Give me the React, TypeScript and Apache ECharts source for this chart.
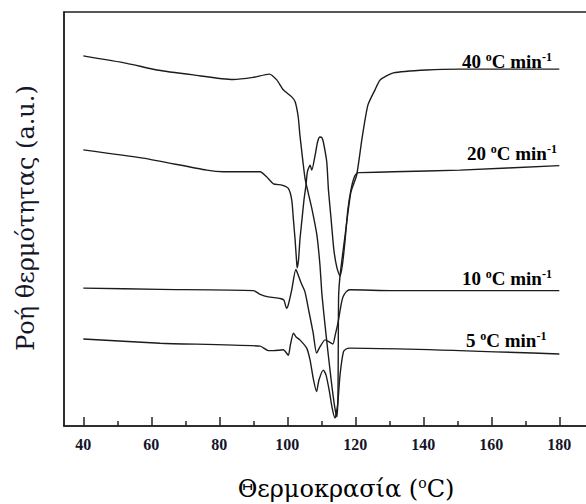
import React, { useEffect, useRef } from 'react';
import * as echarts from 'echarts';

const xTicks = [40, 60, 80, 100, 120, 140, 160, 180];
const xMinorTicks = [50, 70, 90, 110, 130, 150, 170];

// [temperature °C, heat flow a.u.]
const rate40: number[][] = [
  [40, 89.4], [52.8, 87.6], [61.6, 86.0], [72.4, 84.8], [84.0, 83.7], [89.9, 84.2],
  [94.7, 85.0], [96.9, 83.6], [98.8, 81.2], [101.3, 79.5], [102.3, 78.3], [103.2, 74.7],
  [103.7, 70.3], [104.2, 66.7], [104.6, 63.8], [105.2, 59.9], [106.1, 56.5], [107.3, 52.2],
  [108.7, 46.1], [109.6, 38.9], [110.2, 31.6], [111.4, 22.0], [112.9, 11.1], [114.0, 4.3],
  [114.6, 2.2], [114.9, 7.5], [115.0, 20.8], [115.1, 31.6], [115.5, 36.2], [117.0, 46.1],
  [118.7, 56.5], [120.4, 60.6], [122.0, 69.6], [123.7, 77.5], [125.8, 81.2], [127.3, 83.6],
  [131.2, 85.3], [141.0, 86.0], [150.8, 86.2], [180, 86.2],
];

const rate20: number[][] = [
  [40, 66.7], [57.6, 64.7], [76.3, 61.8], [81.2, 61.4], [92.0, 61.4], [93.9, 60.2],
  [95.9, 58.5], [98.4, 58.2], [100.3, 57.4], [101.3, 54.6], [101.8, 49.8], [102.3, 44.9],
  [102.7, 40.1], [102.9, 38.2], [103.3, 40.1], [103.7, 44.9], [104.3, 49.8], [104.9, 54.6],
  [105.5, 58.2], [105.9, 61.4], [106.7, 63.0], [107.2, 61.8], [108.2, 65.5], [108.9, 68.6],
  [109.6, 69.8], [110.2, 69.6], [110.6, 68.6], [111.6, 63.8], [112.1, 57.0], [112.9, 49.8],
  [113.7, 42.5], [114.6, 38.2], [115.5, 36.2], [116.2, 38.9], [117.0, 44.9], [117.8, 52.2],
  [118.7, 57.0], [119.6, 59.9], [120.5, 61.1], [121.4, 61.2], [131.2, 61.4], [150.8, 61.8],
  [180, 62.9],
];

const rate10: number[][] = [
  [40, 33.3], [62.6, 33.0], [90.0, 32.7], [92.0, 31.8], [94.4, 31.2], [97.9, 30.8],
  [99.0, 30.4], [99.8, 28.4], [100.2, 29.0], [101.3, 32.9], [102.5, 37.8], [103.2, 36.5],
  [104.1, 34.5], [105.2, 32.4], [106.4, 27.5], [107.6, 22.5], [108.6, 17.6], [109.6, 19.1],
  [111.1, 20.8], [112.3, 20.3], [113.4, 19.8], [114.1, 22.0], [114.9, 24.9], [115.8, 29.2],
  [116.4, 31.2], [117.3, 32.4], [118.4, 32.9], [131.2, 32.7], [180, 32.7],
];

const rate5: number[][] = [
  [40, 21.0], [62.6, 20.0], [92.0, 19.3], [94.4, 18.2], [95.9, 18.2], [98.8, 18.4],
  [100.3, 17.1], [100.9, 19.6], [101.8, 22.4], [102.6, 21.5], [103.7, 20.8], [105.7, 18.8],
  [106.7, 15.9], [107.6, 11.6], [108.6, 8.3], [109.3, 11.1], [110.6, 13.5], [111.4, 12.3],
  [112.3, 8.7], [113.2, 4.3], [114.0, 1.9], [114.8, 5.1], [115.5, 12.3], [116.5, 17.9],
  [117.3, 18.6], [118.4, 18.8], [180, 17.4],
];

const rateLabels = ['40', '20', '10', '5'];

export default function App() {
  const ref = useRef<HTMLDivElement>(null);
  useEffect(() => {
    const chart = echarts.init(ref.current!, null, { renderer: 'svg' });
    const lineColor = '#1c1c1c';
    const serif = '"Liberation Serif", "Times New Roman", serif';
    const titleFont = '"DejaVu Serif", serif';
    const labelRich = {
      n: { fontFamily: serif, fontWeight: 'bold', fontSize: 19, color: '#15152a', lineHeight: 20 },
      s: { fontFamily: serif, fontWeight: 'bold', fontSize: 12, color: '#15152a', lineHeight: 12, verticalAlign: 'top' },
    };
    const labelPos = [
      [462, 61],
      [467, 153],
      [462, 278],
      [466, 340],
    ];
    const mk = (data: number[][]) => ({
      type: 'line',
      data,
      showSymbol: false,
      smooth: 0.2,
      lineStyle: { color: lineColor, width: 1.4 },
      silent: true,
    });
    chart.setOption({
      animation: false,
      backgroundColor: '#ffffff',
      grid: {
        left: 64, top: 12, width: 524, height: 414,
        outerBoundsMode: 'none',
        show: true, borderColor: '#222', borderWidth: 1.5, backgroundColor: 'transparent',
      },
      xAxis: [
        {
          type: 'value', min: 34.32, max: 188.44, position: 'bottom',
          axisLine: { show: true, lineStyle: { color: '#222', width: 1.5 } },
          axisTick: { show: true, inside: true, length: 9, customValues: xTicks, lineStyle: { color: '#222', width: 1.5 } },
          axisLabel: {
            show: true, customValues: xTicks, margin: 10,
            fontFamily: serif, fontWeight: 'bold', fontSize: 16, color: '#15152a',
          },
          splitLine: { show: false },
        },
        {
          type: 'value', min: 34.32, max: 188.44, position: 'bottom', offset: 0,
          axisLine: { show: false },
          axisTick: { show: true, inside: true, length: 5, customValues: xMinorTicks, lineStyle: { color: '#222', width: 1.5 } },
          axisLabel: { show: false },
          splitLine: { show: false },
        },
      ],
      yAxis: {
        type: 'value', min: 0, max: 100,
        axisLine: { show: true, lineStyle: { color: '#222', width: 1.5 } },
        axisTick: { show: false }, axisLabel: { show: false }, splitLine: { show: false },
      },
      series: [mk(rate40), mk(rate20), mk(rate10), mk(rate5)],
      graphic: [
        ...rateLabels.map((r, i) => ({
          type: 'text',
          x: labelPos[i][0], y: labelPos[i][1],
          style: {
            text: `{n|${r} }{s|o}{n|C min}{s|-1}`,
            rich: labelRich,
            verticalAlign: 'middle',
            align: 'left',
          },
        })),
        {
          type: 'text', x: 346, y: 489,
          style: {
            text: '{a|Θερμοκρασία (}{s|o}{a|C)}',
            rich: {
              a: { fontFamily: titleFont, fontSize: 24, color: '#15152a', lineHeight: 27 },
              s: { fontFamily: titleFont, fontSize: 14, color: '#15152a', lineHeight: 14, verticalAlign: 'top' },
            },
            align: 'center', verticalAlign: 'middle',
          },
        },
        {
          type: 'text', x: 26, y: 218, rotation: Math.PI / 2,
          style: {
            text: 'Ροή θερμότητας (a.u.)',
            fontFamily: titleFont, fontSize: 24, fill: '#15152a',
            align: 'center', verticalAlign: 'middle',
          },
        },
      ],
    });
    return () => chart.dispose();
  }, []);
  return (
    <div
      ref={ref}
      style={{ position: 'fixed', left: 0, top: 0, width: 586, height: 504, background: '#fff' }}
    />
  );
}
